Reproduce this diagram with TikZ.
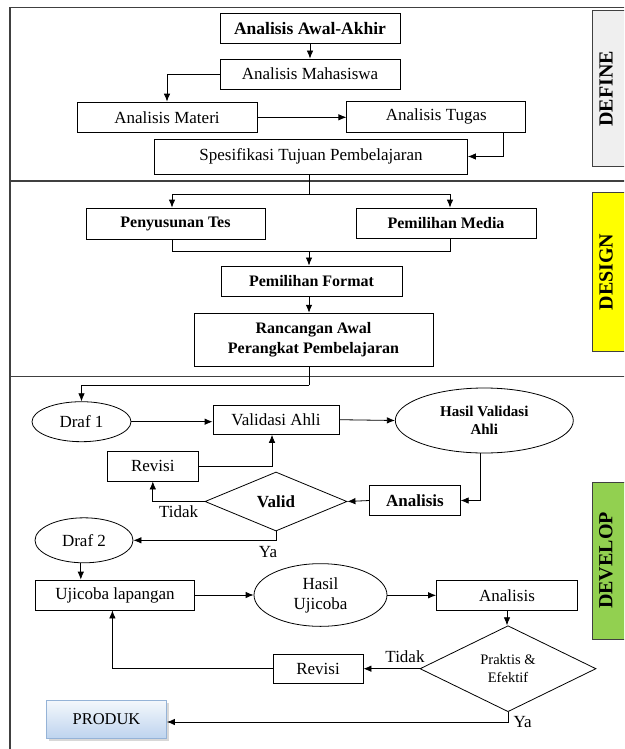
\documentclass[tikz,border=0pt]{standalone}
\usepackage{fontspec}
\setmainfont{Liberation Serif}
\usetikzlibrary{arrows.meta,shapes.geometric,shadows}
\definecolor{framegray}{HTML}{404040}
\definecolor{definefill}{HTML}{EFEFEF}
\definecolor{designfill}{HTML}{FFFF00}
\definecolor{developfill}{HTML}{92D050}
\definecolor{prodtop}{HTML}{F4F8FC}
\definecolor{prodbot}{HTML}{BDD3EE}
\definecolor{prodline}{HTML}{95B3D7}
\tikzset{
  box/.style={draw, line width=0.8pt, inner sep=0pt, align=center, font=\fontsize{17}{20}\selectfont},
  bbox/.style={box, font=\fontsize{16}{20}\selectfont\bfseries},
  ell/.style={ellipse, draw, line width=0.8pt, inner sep=0pt, align=center, font=\fontsize{17}{20}\selectfont},
  dia/.style={diamond, draw, line width=0.8pt, inner sep=0pt, align=center, font=\fontsize{17}{20}\selectfont},
  arr/.style={line width=0.8pt, -{Latex[length=8pt,width=6.5pt]}},
  ln/.style={line width=0.8pt},
  lbl/.style={inner sep=0pt, font=\fontsize{17}{20}\selectfont},
  phase/.style={draw=framegray, line width=1pt},
  phasetxt/.style={rotate=90, inner sep=0pt, font=\fontsize{20}{23}\selectfont\bfseries}
}
\begin{document}
\begin{tikzpicture}[x=1pt,y=-1pt]
\useasboundingbox (0,0) rectangle (624,749);
\clip (0,0) rectangle (624,749);
% frame
\draw[framegray, line width=1.2pt] (640,7.5) -- (10,7.5) -- (10,760);
\draw[framegray, line width=1.2pt] (10,181) -- (640,181);
\draw[framegray, line width=1.2pt] (10,376.7) -- (640,376.7);
% phase labels
\draw[phase, fill=definefill] (592,10.7) rectangle (640,166.7);
\draw[phase, fill=designfill] (592,192.7) rectangle (640,351.7);
\draw[phase, fill=developfill] (592,482) rectangle (640,639);
\node[phasetxt] (tdef) at (606,88.7) {DEFINE};
\node[phasetxt] (tdes) at (606,272) {DESIGN};
\node[phasetxt] (tdev) at (606,560.5) {DEVELOP};

% DEFINE
\node[box, font=\fontsize{17.5}{20}\selectfont\bfseries, minimum width=180pt, minimum height=30pt] (aa) at (310,28.5) {Analisis Awal-Akhir};
\node[box, minimum width=180pt, minimum height=30pt] (am) at (310,74) {Analisis Mahasiswa};
\node[box, minimum width=180pt, minimum height=30.5pt] (amt) at (167,117.3) {Analisis Materi};
\node[box, minimum width=179pt, minimum height=31pt] (at) at (436.3,116.5) {Analisis Tugas};
\node[box, minimum width=313pt, minimum height=35pt] (sp) at (311,156.5) {Spesifikasi Tujuan Pembelajaran};
\draw[arr] (aa.south) -- (am.north);
\draw[arr] (am.west) -| (amt.north);
\draw[arr] (amt.east) -- (amt.east -| at.west);
\draw[arr] ([xshift=67pt]at.south) |- (sp.east);

% DESIGN
\node[bbox, minimum width=179pt, minimum height=31pt] (pt) at (175.5,223.5) {Penyusunan Tes};
\node[bbox, minimum width=180pt, minimum height=30pt] (pm) at (446,223) {Pemilihan Media};
\node[bbox, minimum width=181pt, minimum height=30.7pt] (pf) at (311.5,281.3) {Pemilihan Format};
\node[bbox, minimum width=239pt, minimum height=53.7pt] (ra) at (313.5,340) {Rancangan Awal\\Perangkat Pembelajaran};
\coordinate (b1) at (309,194);
\coordinate (b2) at (309,251.7);
\coordinate (b3) at (309,385);
\draw[ln] (sp.south -| b1) -- (b1);
\draw[arr] (b1) -| ([xshift=-3.5pt]pt.north);
\draw[arr] (b1) -| ([xshift=4pt]pm.north);
\draw[ln] ([xshift=-3.5pt]pt.south) |- (b2) -| ([xshift=4pt]pm.south);
\draw[arr] (b2) -- (b2 |- pf.north);
\draw[arr] (pf.south -| b2) -- (b2 |- ra.north);

% DEVELOP
\node[ell, minimum width=99pt, minimum height=40pt] (d1) at (81.5,421.7) {Draf 1};
\node[box, minimum width=126pt, minimum height=29.3pt] (va) at (276,419.7) {Validasi Ahli};
\node[ell, minimum width=178pt, minimum height=65pt, font=\fontsize{15}{18}\selectfont\bfseries] (hv) at (484.3,420.5) {Hasil Validasi\\Ahli};
\node[box, minimum width=90.5pt, minimum height=30.7pt, font=\fontsize{17}{20}\selectfont\bfseries] (an1) at (415,500.5) {Analisis};
\node[dia, aspect=2.4, minimum width=142pt, minimum height=59pt, font=\fontsize{17}{20}\selectfont\bfseries] (vd) at (276,501.5) {Valid};
\node[box, minimum width=91.5pt, minimum height=30pt] (rv1) at (152.8,466) {Revisi};
\node[ell, minimum width=98pt, minimum height=45pt] (d2) at (84,540.3) {Draf 2};
\node[box, minimum width=159pt, minimum height=30pt] (uj) at (115,595) {Ujicoba lapangan};
\node[ell, minimum width=133pt, minimum height=62.7pt] (hu) at (320.5,595) {Hasil\\Ujicoba};
\node[box, minimum width=141pt, minimum height=30.7pt] (an2) at (507,595.3) {Analisis};
\node[dia, aspect=2.05, minimum width=176pt, minimum height=86pt, font=\fontsize{14.5}{18}\selectfont] (pe) at (508,668.7) {Praktis \&\\Efektif};
\node[box, minimum width=90pt, minimum height=29pt] (rv2) at (318,668.5) {Revisi};
\node[box, draw=prodline, top color=prodtop, bottom color=prodbot, drop shadow={shadow xshift=2.5pt, shadow yshift=-2.5pt, fill=black!30}, minimum width=120pt, minimum height=38.5pt, font=\fontsize{16.5}{19}\selectfont] (pr) at (106.5,719.5) {PRODUK};

\draw[ln] (ra.south -| b3) -- (b3);
\draw[arr] (b3) -| (d1.north);
\draw[arr] (d1.east) -- (d1.east -| va.west);
\draw[arr] (va.east) -- (hv.west);
\draw[arr] (hv.263) |- (an1.east);
\draw[arr] (an1.west) -- (vd.east);
\draw[arr] (vd.west) -| (rv1.south);
\draw[arr] (rv1.east) -| ([xshift=-4pt]va.south);
\draw[arr] (vd.south) |- (d2.east);
\draw[arr] (d2.262) -- (d2.262 |- uj.north);
\draw[arr] (uj.east) -- (uj.east -| hu.west);
\draw[arr] (hu.east |- an2.west) -- (an2.west);
\draw[arr] (an2.south) -- (an2.south |- pe.north);
\draw[arr] (pe.west) -- (pe.west -| rv2.east);
\draw[arr] (rv2.west) -| ([xshift=-2.6pt]uj.south);
\draw[arr] (pe.south) |- ([yshift=-2.5pt]pr.east);

\node[lbl] (t1) at (178.6,511.7) {Tidak};
\node[lbl] (y1) at (268,551.7) {Ya};
\node[lbl] (t2) at (405,656.7) {Tidak};
\node[lbl] (y2) at (522.6,722) {Ya};
\end{tikzpicture}
\end{document}
